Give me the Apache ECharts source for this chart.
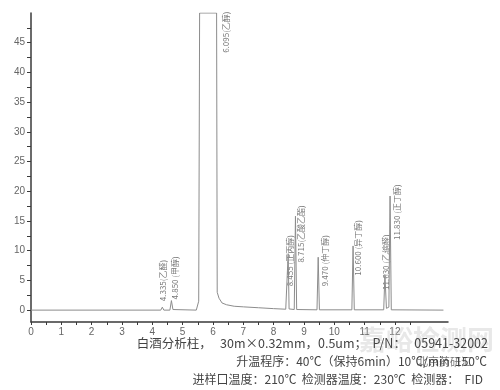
<!DOCTYPE html>
<html><head><meta charset="utf-8">
<script src="https://cdn.jsdelivr.net/npm/echarts@6/dist/echarts.min.js"></script>
<style>html,body{margin:0;padding:0;background:#fff}#c{width:500px;height:390px}</style>
</head><body><div id="c"></div>
<script>
// retention time (min) and detector signal
const times  = [0, 4.28, 4.33, 4.38, 4.58, 4.63, 4.68, 4.72, 5.45, 5.50, 5.53, 5.56, 6.12, 6.14, 6.20, 6.30, 6.45, 6.70, 7.00, 7.50, 8.00, 8.40, 8.45, 8.48, 8.51, 8.68, 8.72, 8.76, 9.43, 9.47, 9.51, 10.58, 10.62, 10.66, 11.63, 11.67, 11.72, 11.80, 11.84, 11.88, 13.60];
const signal = [0, 0,    0.5,  0,    0,    1.6,  0.1,  0,    0,    0.3,  1.5,  50,   50,   3,    2,    1.2,  0.9,  0.65, 0.55, 0.4,  0.25, 0.15, 0.15, 9.5,  0.2,  0.1,  15.8, 0.1,  0.05, 8.9,  0.05, 0.05,  10.8,  0.05,  0.05,  6,     0.3,   0.5,   19.2,  0.05,  0];
// peak annotations
const peakLabels = ['4.335(乙醛)', '4.850 (甲醇)', '6.095(乙醇)', '8.455 (正丙醇)', '8.715(乙酸乙酯)', '9.470 (仲丁醇)', '10.600 (异丁醇)', '11.630 (乙缩醛)', '11.830 (正丁醇)'];
const labelX = [4.34, 4.76, 6.44, 8.53, 8.89, 9.69, 10.79, 11.72, 12.08];
const labelY = [1.5, 1.8, 43.3, 4.0, 8.0, 4.0, 5.8, 3.4, 11.8];
// axis ticks
const xLabelVals = [0,1,2,3,4,5,6,7,8,9,10,11,12];
const xTickVals = [0,0.5,1,1.5,2,2.5,3,3.5,4,4.5,5,5.5,6,6.5,7,7.5,8,8.5,9,9.5,10,10.5,11,11.5,12,12.5];
const yLabelVals = [0,5,10,15,20,25,30,35,40,45];
const yTickVals = [0,2.5,5,7.5,10,12.5,15,17.5,20,22.5,25,27.5,30,32.5,35,37.5,40,42.5,45,47.5];
const notes = [
  '白酒分析柱，   30m×0.32mm，0.5um；  P/N：   05941-32002',
  '升温程序：40℃（保持6min）10℃/min  150℃',
  '进样口温度：210℃  检测器温度：230℃  检测器：  FID'
];

const chart = echarts.init(document.getElementById('c'), null, {renderer: 'canvas'});
const axisColor = '#3a3a3a';
chart.setOption({
  animation: false,
  backgroundColor: '#fff',
  grid: {left: 31, right: 52, top: 13, bottom: 68},
  xAxis: {
    type: 'value', min: 0, max: 13.75,
    axisLine: {show: true, onZero: false, lineStyle: {color: axisColor, width: 1.5}},
    axisTick: {show: true, customValues: xTickVals, length: 3, lineStyle: {color: axisColor}},
    axisLabel: {customValues: xLabelVals, color: '#666', fontSize: 10, margin: 5, fontFamily: 'Liberation Sans'},
    splitLine: {show: false}
  },
  yAxis: {
    type: 'value', min: -2, max: 50,
    axisLine: {show: true, onZero: false, lineStyle: {color: axisColor, width: 1.5}},
    axisTick: {show: true, customValues: yTickVals, length: 4, lineStyle: {color: axisColor}},
    axisLabel: {customValues: yLabelVals, color: '#666', fontSize: 10, margin: 6, fontFamily: 'Liberation Sans'},
    splitLine: {show: false}
  },
  series: [
    {
      type: 'line',
      data: times.map((t, i) => [t, signal[i]]),
      showSymbol: false, symbol: 'none',
      lineStyle: {color: '#8c8c8c', width: 1},
      clip: true
    },
    {
      type: 'scatter',
      symbolSize: 0,
      data: labelX.map((x, i) => ({name: peakLabels[i], value: [x, labelY[i]]})),
      label: {
        show: true, position: 'inside', rotate: 90, align: 'left', verticalAlign: 'middle',
        formatter: p => p.name, fontSize: 8, color: '#555',
        fontFamily: 'Noto Sans CJK SC'
      },
      silent: true
    }
  ],
  graphic: [
    {type: 'text', right: 6, top: 326, z: 1, style: {text: '嘉峪检测网', font: 'bold 27px "Noto Sans CJK SC"', fill: 'rgba(190,190,190,0.35)'}},
    {type: 'text', right: 28, top: 356, z: 1, style: {text: '北京药研汇', font: '11px "Noto Sans CJK SC"', fill: '#777'}},
    {type: 'text', right: 12, top: 337, z: 10, style: {text: notes[0], font: '12.5px "Noto Sans CJK SC"', fill: '#444'}},
    {type: 'text', right: 13, top: 355, z: 10, style: {text: notes[1], font: '12px "Noto Sans CJK SC"', fill: '#444'}},
    {type: 'text', right: 17, top: 373, z: 10, style: {text: notes[2], font: '12px "Noto Sans CJK SC"', fill: '#444'}}
  ]
});
</script></body></html>
